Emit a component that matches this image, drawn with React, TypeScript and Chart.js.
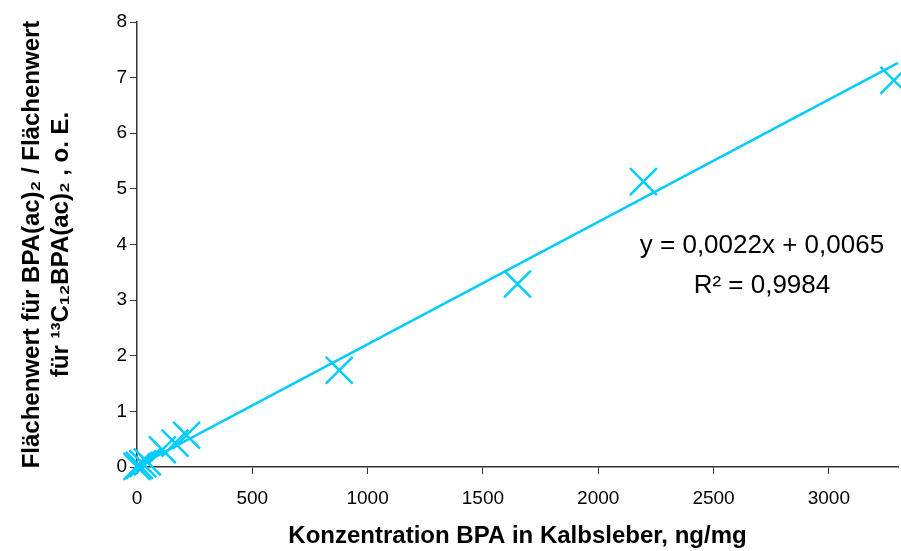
import React, { useEffect, useRef } from 'react';
import { Chart, registerables } from 'chart.js';

Chart.register(...registerables);

// Data
const concentrations = [0, 10, 25, 45, 110, 165, 215, 877, 1650, 2196, 3282];
const areaRatios = [0.01, 0.03, 0.06, 0.09, 0.31, 0.43, 0.57, 1.74, 3.29, 5.13, 6.95];
const trendSlope = 0.0022;
const trendIntercept = 0.0065;
const trendRange = [0, 3300];
const xTickValues = [0, 500, 1000, 1500, 2000, 2500, 3000];
const yTickValues = [0, 1, 2, 3, 4, 5, 6, 7, 8];
const equationLines = ['y = 0,0022x + 0,0065', 'R² = 0,9984'];
const equationAnchor = { x: 2710, y: [3.85, 3.13] };
const xTitle = 'Konzentration BPA in Kalbsleber, ng/mg';
const yTitle = ['Flächenwert für BPA(ac)₂ / Flächenwert', 'für ¹³C₁₂BPA(ac)₂ , o. E.'];

const FONT = '"Liberation Sans", Arial, sans-serif';
const CYAN = '#00CCFF';
const AXIS = '#333333';

const equationPlugin = {
  id: 'equationText',
  afterDatasetsDraw(chart: any) {
    const { ctx, scales } = chart;
    ctx.save();
    ctx.font = `26px ${FONT}`;
    ctx.fillStyle = '#000';
    ctx.textAlign = 'center';
    ctx.textBaseline = 'alphabetic';
    const px = scales.x.getPixelForValue(equationAnchor.x);
    equationLines.forEach((line, i) => {
      ctx.fillText(line, px, scales.y.getPixelForValue(equationAnchor.y[i]));
    });
    ctx.restore();
  },
};

export default function App() {
  const ref = useRef<HTMLCanvasElement | null>(null);
  useEffect(() => {
    if (!ref.current) return;
    const points = concentrations.map((x, i) => ({ x, y: areaRatios[i] }));
    const trend = trendRange.map((x) => ({ x, y: trendSlope * x + trendIntercept }));
    const chart = new Chart(ref.current, {
      type: 'scatter',
      data: {
        datasets: [
          {
            type: 'line',
            data: trend,
            borderColor: CYAN,
            borderWidth: 2.5,
            pointRadius: 0,
            fill: false,
            clip: false,
          } as any,
          {
            type: 'scatter',
            data: points,
            pointStyle: 'crossRot',
            pointRadius: 19,
            pointBorderWidth: 2.5,
            borderColor: CYAN,
            backgroundColor: CYAN,
            showLine: false,
            clip: false,
          } as any,
        ],
      },
      options: {
        animation: false,
        responsive: false,
        devicePixelRatio: 1,
        layout: { autoPadding: false, padding: { top: 22, right: 3, left: 0, bottom: 0 } },
        plugins: { legend: { display: false }, tooltip: { enabled: false } },
        scales: {
          x: {
            type: 'linear',
            min: 0,
            max: 3300,
            afterBuildTicks: (s: any) => {
              s.ticks = xTickValues.map((v) => ({ value: v }));
            },
            afterFit: (s: any) => {
              s.height = 84;
              s.paddingLeft = 0;
              s.paddingRight = 0;
            },
            grid: { drawOnChartArea: false, drawTicks: true, tickLength: 7, tickColor: AXIS, tickWidth: 1 },
            border: { display: true, color: AXIS, width: 1.5 },
            ticks: {
              color: '#000',
              font: { family: FONT, size: 19 },
              padding: 13,
              maxRotation: 0,
              callback: (v: any) => String(v),
            },
            title: {
              display: true,
              text: xTitle,
              color: '#000',
              font: { family: FONT, size: 24, weight: 'bold', lineHeight: 1.2 },
              padding: { top: 0, bottom: 0 },
            },
          },
          y: {
            type: 'linear',
            min: 0,
            max: 8,
            afterBuildTicks: (s: any) => {
              s.ticks = yTickValues.map((v) => ({ value: v }));
            },
            afterFit: (s: any) => {
              s.width = 137;
              s.paddingTop = 0;
              s.paddingBottom = 0;
            },
            grid: { drawOnChartArea: false, drawTicks: true, tickLength: 7, tickColor: AXIS, tickWidth: 1 },
            border: { display: true, color: AXIS, width: 1.5 },
            ticks: { color: '#000', font: { family: FONT, size: 19 }, padding: 3, callback: (v: any) => String(v) },
            title: {
              display: true,
              text: yTitle,
              color: '#000',
              font: { family: FONT, size: 24, weight: 'bold', lineHeight: 1.2 },
              padding: { top: 18, bottom: 0 },
            },
          },
        },
      } as any,
      plugins: [equationPlugin],
    });
    return () => chart.destroy();
  }, []);
  return (
    <div style={{ position: 'absolute', left: 0, top: 0, width: 901, height: 551, background: '#fff' }}>
      <canvas ref={ref} width={901} height={551} />
    </div>
  );
}
